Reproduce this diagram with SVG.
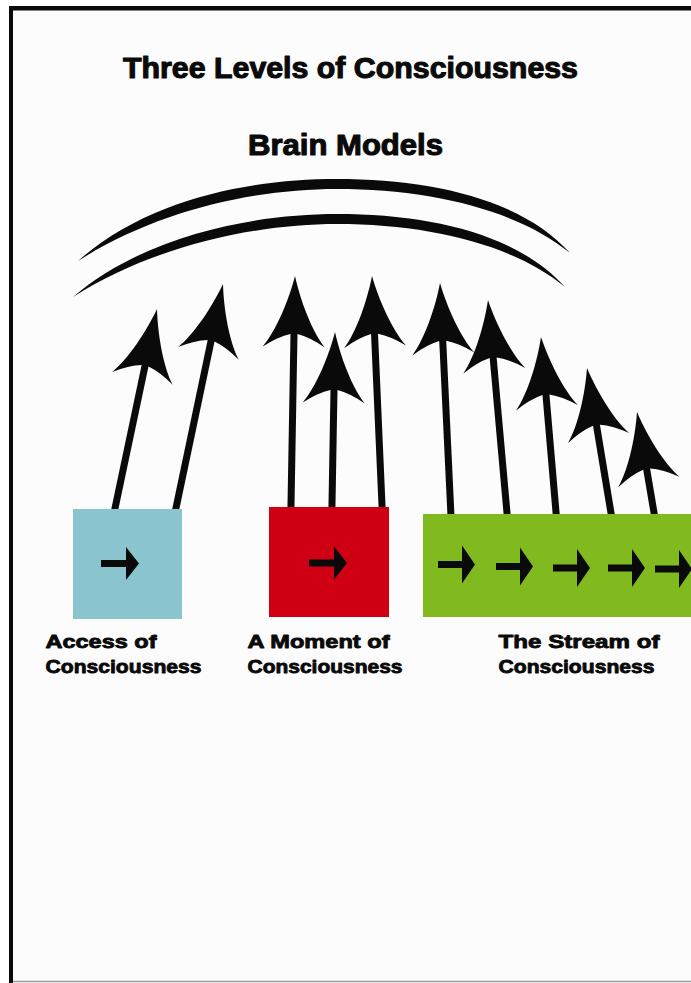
<svg xmlns="http://www.w3.org/2000/svg" xmlns:xlink="http://www.w3.org/1999/xlink" width="691" height="983" viewBox="0 0 691 983">
<style>
.t{font-family:"Liberation Sans",Arial,sans-serif;font-weight:bold;fill:#0a0a0a;stroke:#0a0a0a;stroke-linejoin:round}
.big{font-size:29.5px;stroke-width:1.1}
.lbl{font-size:19px;stroke-width:0.85}
.shaft{stroke:#0a0a0a;stroke-width:7;fill:none}
.ink{fill:#0a0a0a}
</style>
<defs>
<path id="head" d="M0,0 C-6,25 -18,55 -31,71 Q-16,61 -3.5,58 L3.5,58 Q16,61 31,71 C18,55 6,25 0,0 Z"/>
<path id="sarrow" d="M0,-3.5 L25,-3.5 L25,-16.5 L38,0 L25,16.5 L25,3.5 L0,3.5 Z"/>
<path id="garrow" d="M0,-3.5 L24,-3.5 L24,-19 L37,0 L24,19 L24,3.5 L0,3.5 Z"/>
</defs>
<rect x="0" y="0" width="691" height="983" fill="#ffffff"/>
<rect x="11" y="9" width="680" height="972" fill="#fcfcfc"/>
<rect x="9" y="6" width="682" height="4.5" fill="#0a0a0a"/>
<rect x="9" y="6" width="4" height="977" fill="#0a0a0a"/>
<line x1="13" y1="981.5" x2="691" y2="981.5" stroke="#9a9a9a" stroke-width="1.5"/>

<g id="title">
<text class="t big" x="123" y="78" textLength="455" lengthAdjust="spacingAndGlyphs">Three Levels of Consciousness</text>
</g>
<g id="brain-models">
<text class="t big" x="248" y="155" textLength="195" lengthAdjust="spacingAndGlyphs">Brain Models</text>
<path class="ink" d="M78,261 C148,199 250,179 337,179 C430,179 522,199 570,253 C518,210 430,189 337,189 C255,189 158,210 78,261 Z"/>
<path class="ink" d="M73,297 C143,237 250,214 337,214 C430,214 517,234 565,287 C514,245 430,224 337,224 C255,224 153,246 73,297 Z"/>
</g>

<g id="connectors">
<g transform="translate(157,309) rotate(11.9)"><line class="shaft" x1="0" y1="50" x2="0" y2="207"/><use href="#head" class="ink"/></g>
<g transform="translate(223,284) rotate(11.85)"><line class="shaft" x1="0" y1="50" x2="0" y2="233"/><use href="#head" class="ink"/></g>
<g transform="translate(295,276) rotate(1)"><line class="shaft" x1="0" y1="50" x2="0" y2="235"/><use href="#head" class="ink"/></g>
<g transform="translate(335,332) rotate(1)"><line class="shaft" x1="0" y1="50" x2="0" y2="179"/><use href="#head" class="ink"/></g>
<g transform="translate(372,276) rotate(-2.5)"><line class="shaft" x1="0" y1="50" x2="0" y2="235"/><use href="#head" class="ink"/></g>
<g transform="translate(440,283) rotate(-2.7)"><line class="shaft" x1="0" y1="50" x2="0" y2="234"/><use href="#head" class="ink"/></g>
<g transform="translate(488,300) rotate(-5.1)"><line class="shaft" x1="0" y1="50" x2="0" y2="218"/><use href="#head" class="ink"/></g>
<g transform="translate(541,337) rotate(-4.9)"><line class="shaft" x1="0" y1="50" x2="0" y2="181"/><use href="#head" class="ink"/></g>
<g transform="translate(587,368) rotate(-9.4)"><line class="shaft" x1="0" y1="50" x2="0" y2="151"/><use href="#head" class="ink"/></g>
<g transform="translate(637,412) rotate(-9.6)"><line class="shaft" x1="0" y1="50" x2="0" y2="106"/><use href="#head" class="ink"/></g>
</g>

<g id="access">
<rect x="73" y="509" width="109" height="110" fill="#89c4cf"/>
<use href="#sarrow" class="ink" transform="translate(101,563.5)"/>
<text class="t lbl" x="45.5" y="648" textLength="111" lengthAdjust="spacingAndGlyphs">Access of</text>
<text class="t lbl" x="45.5" y="673" textLength="156" lengthAdjust="spacingAndGlyphs">Consciousness</text>
</g>
<g id="moment">
<rect x="269" y="507" width="120" height="110" fill="#cf0014"/>
<use href="#sarrow" class="ink" transform="translate(309,563)"/>
<text class="t lbl" x="247.5" y="648" textLength="142" lengthAdjust="spacingAndGlyphs">A Moment of</text>
<text class="t lbl" x="247.5" y="673" textLength="155" lengthAdjust="spacingAndGlyphs">Consciousness</text>
</g>
<g id="stream">
<rect x="423" y="514" width="268" height="103" fill="#80ba1e"/>
<use href="#garrow" class="ink" transform="translate(438,564.5)"/>
<use href="#garrow" class="ink" transform="translate(496,566.5)"/>
<use href="#garrow" class="ink" transform="translate(553,568)"/>
<use href="#garrow" class="ink" transform="translate(608,568)"/>
<use href="#garrow" class="ink" transform="translate(655,569)"/>
<text class="t lbl" x="498.5" y="648" textLength="161" lengthAdjust="spacingAndGlyphs">The Stream of</text>
<text class="t lbl" x="498.5" y="673" textLength="156" lengthAdjust="spacingAndGlyphs">Consciousness</text>
</g>
</svg>
